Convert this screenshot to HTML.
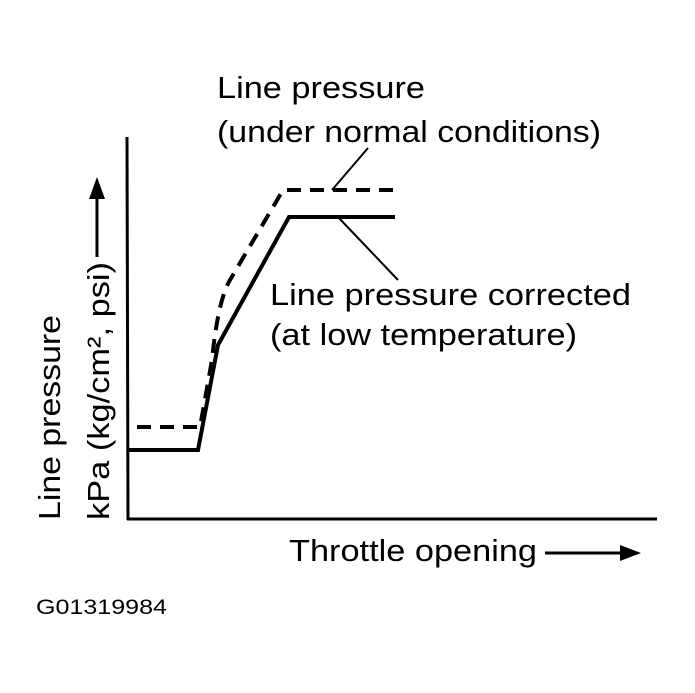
<!DOCTYPE html>
<html><head><style>body{margin:0;background:#fff}</style></head><body>
<svg width="695" height="688" xmlns="http://www.w3.org/2000/svg" font-family="Liberation Sans, Arial, sans-serif" fill="#000">
<rect width="695" height="688" fill="#fff"/>
<line x1="127" y1="137" x2="128" y2="520" stroke="#000" stroke-width="3"/>
<line x1="127" y1="519" x2="657" y2="519" stroke="#000" stroke-width="3"/>
<polyline points="128,450 198,450 218,345 289,217 395,217" fill="none" stroke="#000" stroke-width="4"/>
<path d="M137,427 L200,427 L212,360 Q218,300 230,280 L283,190 L395,190" fill="none" stroke="#000" stroke-width="4" stroke-dasharray="14,9"/>
<line x1="332" y1="190" x2="368" y2="148" stroke="#000" stroke-width="2"/>
<line x1="338" y1="217" x2="398" y2="280" stroke="#000" stroke-width="2"/>
<line x1="97" y1="257" x2="97" y2="195" stroke="#000" stroke-width="3"/>
<polygon points="97,177 89,199 105,199"/>
<g font-size="31" lengthAdjust="spacingAndGlyphs">
<text x="217" y="98" textLength="208" lengthAdjust="spacingAndGlyphs">Line pressure</text>
<text x="217" y="142" textLength="384" lengthAdjust="spacingAndGlyphs">(under normal conditions)</text>
<text x="270" y="305" textLength="361" lengthAdjust="spacingAndGlyphs">Line pressure corrected</text>
<text x="270" y="345" textLength="307" lengthAdjust="spacingAndGlyphs">(at low temperature)</text>
<text x="289" y="561" textLength="248" lengthAdjust="spacingAndGlyphs">Throttle opening</text>
<text transform="translate(60,520) rotate(-90)" textLength="205" lengthAdjust="spacingAndGlyphs">Line pressure</text>
<text transform="translate(109,520) rotate(-90)" textLength="258" lengthAdjust="spacingAndGlyphs">kPa (kg/cm², psi)</text>
</g>
<line x1="545" y1="553" x2="625" y2="553" stroke="#000" stroke-width="3"/>
<polygon points="641,553 620,545 620,561"/>
<text x="36" y="614" font-size="21" textLength="131" lengthAdjust="spacingAndGlyphs">G01319984</text>
</svg>
</body></html>
